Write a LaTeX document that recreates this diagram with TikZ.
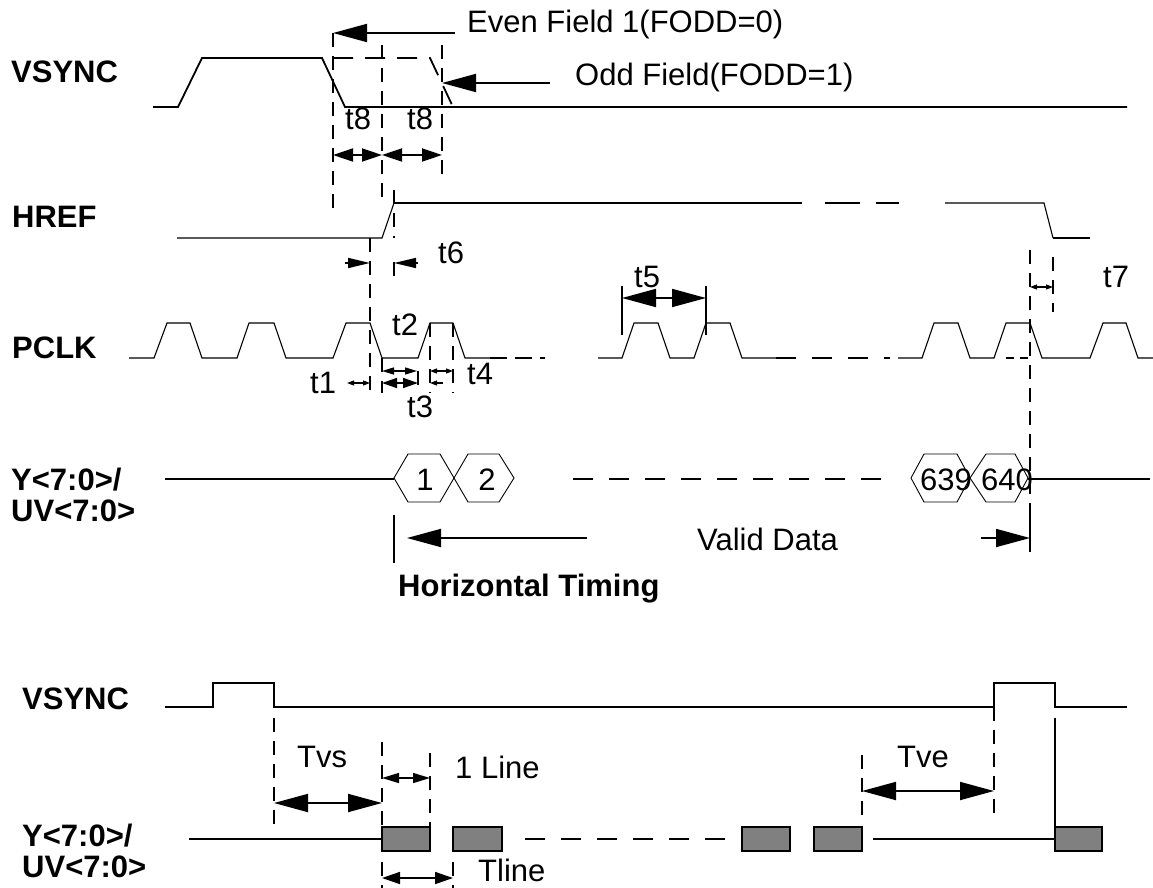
\documentclass[tikz,border=0pt]{standalone}
\usepackage{fontspec}
\setmainfont{Liberation Sans}
\usetikzlibrary{arrows.meta}
\definecolor{boxgray}{RGB}{128,128,128}
\begin{document}
\begin{tikzpicture}[x=1pt,y=-1pt,
  txt/.style={anchor=base west,inner sep=0pt,font=\fontsize{31}{36}\selectfont},
  ctxt/.style={anchor=base,inner sep=0pt,font=\fontsize{31}{36}\selectfont},
  btxt/.style={anchor=base west,inner sep=0pt,font=\fontsize{31}{36}\selectfont\bfseries},
  wv/.style={line width=1.8pt},
  wthin/.style={line width=1.1pt},
  dsh/.style={line width=1.8pt,dash pattern=on 14pt off 9pt},
  hdsh/.style={line width=1.8pt,dash pattern=on 20pt off 16pt},
  bigdbl/.style={line width=1.8pt,{Triangle[length=34pt,width=18pt]}-{Triangle[length=34pt,width=18pt]}},
  bigone/.style={line width=1.8pt,-{Triangle[length=34pt,width=18pt]}},
  middbl/.style={line width=1.8pt,{Triangle[length=20pt,width=13pt]}-{Triangle[length=20pt,width=13pt]}},
  smdbl/.style={line width=1.4pt,{Triangle[length=17pt,width=10pt]}-{Triangle[length=17pt,width=10pt]}},
  tinydbl/.style={line width=1.1pt,{Triangle[length=7pt,width=5pt]}-{Triangle[length=7pt,width=5pt]}},
  tinyone/.style={line width=1.1pt,-{Triangle[length=7pt,width=5pt]}},
  sixone/.style={line width=1.6pt,-{Triangle[length=22pt,width=10pt]}},
  databox/.style={line width=1.8pt,fill=boxgray},
  hexa/.style={line width=0.9pt}]
\path[use as bounding box] (0,0) rectangle (1153,888);

% ---------- labels ----------
\node[btxt] (lvs) at (11,83) {VSYNC};
\node[btxt] (lhref) at (12,227) {HREF};
\node[btxt] (lpclk) at (12,358) {PCLK};
\node[btxt] (ly1) at (11,490) {Y<7:0>/};
\node[btxt] (luv1) at (11,521) {UV<7:0>};
\node[btxt] (lvs2) at (22,709) {VSYNC};
\node[btxt] (ly2) at (22,846) {Y<7:0>/};
\node[btxt] (luv2) at (22,877) {UV<7:0>};

\node[txt] (even) at (467,33) {Even Field 1(FODD=0)};
\node[txt] (odd) at (575,86) {Odd Field(FODD=1)};
\node[txt] (t8a) at (345,130) {t8};
\node[txt] (t8b) at (407,130) {t8};
\node[txt] (t6) at (438,263) {t6};
\node[txt] (t5) at (634,287) {t5};
\node[txt] (t7) at (1103,287) {t7};
\node[txt] (t2) at (392,335) {t2};
\node[txt] (t1) at (310,393) {t1};
\node[txt] (t3) at (407,417) {t3};
\node[txt] (t4) at (467,384) {t4};
\node[ctxt] (d1) at (425,490) {1};
\node[ctxt] (d2) at (487,490) {2};
\node[ctxt] (d639) at (946,490) {639};
\node[ctxt] (d640) at (1007,490) {640};
\node[txt] (valid) at (697,550) {Valid Data};
\node[btxt] (htim) at (398,596) {Horizontal Timing};
\node[txt] (tvs) at (297,767) {Tvs};
\node[txt] (oneline) at (455,778) {1 Line};
\node[txt] (tve) at (897,767) {Tve};
\node[txt] (tline) at (478,881) {Tline};

% ---------- VSYNC (top) ----------
\draw[wv] (153,107) -- (178,107) -- (202,58) -- (322,58) -- (345,107) -- (1127,107);
\draw[line width=1.8pt,dash pattern=on 20pt off 12pt] (333,58) -- (430,58) -- (453,107);
\draw[dsh] (333,33) -- (333,215);
\draw[dsh] (382,45) -- (382,202);
\draw[dsh] (442,45) -- (442,180);
\draw[bigone] (455,33) -- (333,33);
\draw[bigone] (550,83) -- (442,83);
\draw[middbl] (333,155) -- (382,155);
\draw[middbl] (382,155) -- (442,155);

% ---------- HREF ----------
\draw[wthin] (177,238) -- (382,238) -- (394,203);
\draw[wv] (394,203) -- (802,203);
\draw[wv] (825,203) -- (860,203);
\draw[wv] (876,203) -- (899,203);
\draw[wthin] (945,203) -- (1044,203) -- (1053,238);
\draw[wv] (1053,238) -- (1090,238);
\draw[dsh] (394,190) -- (394,238);
\draw[dsh] (370,238) -- (370,393);
\draw[dsh] (394,262) -- (394,276);
\draw[sixone] (345,263) -- (370,263);
\draw[sixone] (418,263) -- (394,263);

% t7
\draw[dsh] (1030,250) -- (1030,515);
\draw[wv] (1030,515) -- (1030,552);
\draw[dsh] (1053,257) -- (1053,312);
\draw[tinydbl] (1030,287) -- (1053,287);

% ---------- PCLK ----------
\draw[wthin] (129,358) -- (154,358) -- (167,323) -- (190,323) -- (202,358) -- (237,358)
  -- (249,323) -- (274,323) -- (286,358) -- (333,358) -- (346,323) -- (370,323) -- (382,358)
  -- (418,358) -- (430,323) -- (453,323) -- (465,358) -- (490,358);
\draw[line width=1.8pt,dash pattern=on 17pt off 8pt] (490,358) -- (545,358);
\draw[wthin] (598,358) -- (622,358) -- (634,323) -- (658,323) -- (670,358) -- (694,358)
  -- (706,323) -- (730,323) -- (742,358) -- (776,358);
\draw[hdsh] (776,358) -- (890,358);
\draw[wthin] (898,358) -- (922,358) -- (934,323) -- (958,323) -- (970,358) -- (994,358)
  -- (1006,323) -- (1030,323) -- (1042,358) -- (1090,358) -- (1103,323) -- (1126,323)
  -- (1138,358) -- (1153,358);
\draw[line width=1.1pt,dash pattern=on 8pt off 6pt] (1006,358) -- (1028,358);

% t5
\draw[wv] (622,286) -- (622,335);
\draw[wv] (706,286) -- (706,335);
\draw[bigdbl] (622,298) -- (706,298);

% t1..t4
\draw[dsh] (382,358) -- (382,393);
\draw[dsh] (418,371) -- (418,393);
\draw[dsh] (430,323) -- (430,393);
\draw[dsh] (453,323) -- (453,393);
\draw[tinydbl] (347,383) -- (370,383);
\draw[line width=1.4pt,{Triangle[length=12pt,width=7pt]}-{Triangle[length=12pt,width=7pt]}] (382,371) -- (417,371);
\draw[line width=1.6pt,{Triangle[length=15pt,width=10pt]}-{Triangle[length=15pt,width=10pt]}] (382,383) -- (418,383);
\draw[tinydbl] (430,371) -- (453,371);
\draw[tinyone] (443,383) -- (430,383);

% ---------- Y / UV (top) ----------
\draw[wv] (165,479) -- (394,479);
\draw[hexa] (394,478) -- (408,454) -- (440,454) -- (454,478) -- (440,502) -- (408,502) -- cycle;
\draw[hexa] (454,478) -- (468,454) -- (499,454) -- (514,478) -- (499,502) -- (468,502) -- cycle;
\draw[hdsh] (573,479) -- (889,479);
\draw[hexa] (911,478) -- (924,454) -- (957,454) -- (970,478) -- (957,502) -- (924,502) -- cycle;
\draw[hexa] (970,478) -- (986,454) -- (1015,454) -- (1028,478) -- (1015,502) -- (986,502) -- cycle;
\draw[wv] (1028,479) -- (1150,479);
\draw[wv] (394,515) -- (394,563);
\draw[bigone] (587,538) -- (407,538);
\draw[bigone] (981,538) -- (1030,538);

% ---------- Vertical timing ----------
\draw[wv] (165,707) -- (213,707) -- (213,683) -- (274,683) -- (274,707) -- (994,707)
  -- (994,683) -- (1055,683) -- (1055,707) -- (1127,707);
\draw[dsh] (274,718) -- (274,827);
\draw[dsh] (382,742) -- (382,827);
\draw[dsh] (430,753) -- (430,827);
\draw[dsh] (862,755) -- (862,815);
\draw[dsh] (994,707) -- (994,815);
\draw[wv] (1055,718) -- (1055,827);
\draw[bigdbl] (274,803) -- (382,803);
\draw[smdbl] (382,778) -- (430,778);
\draw[bigdbl] (862,791) -- (994,791);

\draw[wv] (189,839) -- (382,839);
\draw[databox] (382,827) rectangle (430,851);
\draw[databox] (453,827) rectangle (502,851);
\draw[hdsh] (525,839) -- (741,839);
\draw[databox] (742,827) rectangle (790,851);
\draw[databox] (814,827) rectangle (862,851);
\draw[wv] (873,839) -- (1055,839);
\draw[databox] (1055,827) rectangle (1102,851);

\draw[dsh] (382,862) -- (382,888);
\draw[dsh] (453,862) -- (453,888);
\draw[line width=1.6pt,{Triangle[length=18pt,width=12pt]}-{Triangle[length=18pt,width=12pt]}] (382,878) -- (453,878);
\end{tikzpicture}
\end{document}
